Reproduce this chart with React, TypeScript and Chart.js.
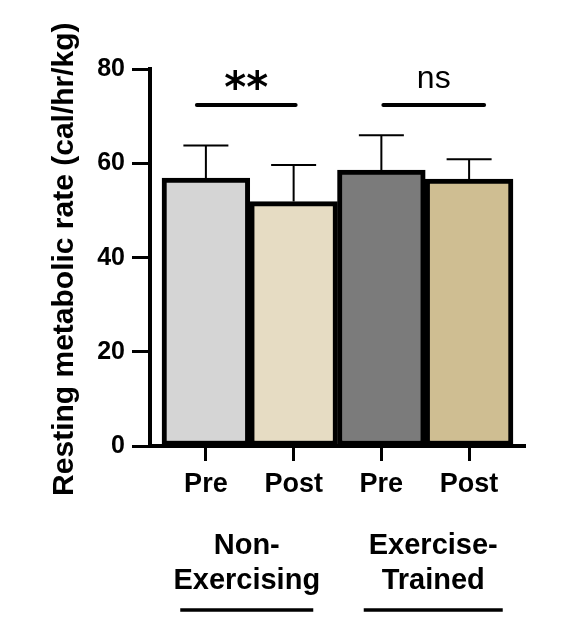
import React, { useEffect, useRef } from "react";
import { Chart, registerables } from "chart.js";

Chart.register(...registerables);

const categories = ["Pre", "Post", "Pre", "Post"];
const groupLines = [["Non-", "Exercising"], ["Exercise-", "Trained"]];
const means = [56.9, 51.9, 58.6, 56.7];
const sem = [6.9, 7.8, 7.4, 4.2];
const barColors = ["#d5d5d5", "#e6dcc3", "#7b7b7b", "#cfbe92"];
const yTicks = [0, 20, 40, 60, 80];
const significance = ["**", "ns"];
const yTitle = "Resting metabolic rate (cal/hr/kg)";

const SANS = "'Liberation Sans', Arial, Helvetica, sans-serif";

const overlay = {
  id: "overlay",
  afterDatasetsDraw(chart: any) {
    const { ctx } = chart;
    const x = chart.scales.x;
    const y = chart.scales.y;
    ctx.save();
    ctx.strokeStyle = "#000";
    ctx.fillStyle = "#000";

    // error bars (upper only)
    ctx.lineWidth = 2;
    means.forEach((m, i) => {
      const px = x.getPixelForValue(i);
      const top = y.getPixelForValue(m);
      const cap = y.getPixelForValue(m + sem[i]);
      ctx.beginPath();
      ctx.moveTo(px, top);
      ctx.lineTo(px, cap);
      ctx.moveTo(px - 22.5, cap);
      ctx.lineTo(px + 22.5, cap);
      ctx.stroke();
    });

    // significance brackets
    const sigY = y.getPixelForValue(72.4);
    ctx.lineWidth = 4;
    ctx.lineCap = "round";
    const pairs = [
      [x.getPixelForValue(0) - 9, x.getPixelForValue(1) + 2],
      [x.getPixelForValue(2) + 2, x.getPixelForValue(3) + 15],
    ];
    pairs.forEach(([a, b]) => {
      ctx.beginPath();
      ctx.moveTo(a, sigY);
      ctx.lineTo(b, sigY);
      ctx.stroke();
    });
    ctx.textAlign = "center";
    ctx.textBaseline = "alphabetic";
    ctx.font = "bold 42px 'DejaVu Sans', sans-serif";
    ctx.fillText(significance[0], (pairs[0][0] + pairs[0][1]) / 2, sigY - 3);
    ctx.font = "32px " + SANS;
    ctx.fillText(significance[1], (pairs[1][0] + pairs[1][1]) / 2, sigY - 17.5);

    // group labels
    const bottom = y.getPixelForValue(0);
    ctx.font = "bold 29px " + SANS;
    const gCenters = [
      (x.getPixelForValue(0) + x.getPixelForValue(1)) / 2 - 3,
      (x.getPixelForValue(2) + x.getPixelForValue(3)) / 2 + 8,
    ];
    groupLines.forEach((lines, g) => {
      lines.forEach((t, k) => {
        ctx.fillText(t, gCenters[g], bottom + 108 + k * 35);
      });
    });
    ctx.lineWidth = 3.5;
    ctx.lineCap = "butt";
    const halfW = [66.5, 69.5];
    gCenters.forEach((c, g) => {
      ctx.beginPath();
      ctx.moveTo(c - halfW[g], bottom + 164);
      ctx.lineTo(c + halfW[g], bottom + 164);
      ctx.stroke();
    });

    // y-axis title
    ctx.font = "bold 30px " + SANS;
    ctx.translate(72.5, (y.top + y.bottom) / 2 + 1.5);
    ctx.rotate(-Math.PI / 2);
    ctx.fillText(yTitle, 0, 0);
    ctx.restore();
  },
};

export default function App() {
  const ref = useRef<HTMLCanvasElement | null>(null);
  useEffect(() => {
    if (!ref.current) return;
    const chart = new Chart(ref.current, {
      type: "bar",
      data: {
        datasets: [
          {
            data: means.map((m, i) => ({ x: i, y: m })) as any,
            backgroundColor: barColors,
            borderColor: "#000",
            borderWidth: 5,
            borderSkipped: false,
            barPercentage: 1,
            categoryPercentage: 1,
          } as any,
        ],
      },
      options: {
        animation: false,
        responsive: false,
        layout: { padding: { top: 69.3, right: 45, left: 0, bottom: 0 } },
        plugins: { legend: { display: false }, tooltip: { enabled: false } },
        scales: {
          x: {
            type: "linear",
            offset: false,
            min: -0.637,
            max: 3.637,
            afterBuildTicks: (s: any) => {
              s.ticks = categories.map((_, i) => ({ value: i }));
            },
            afterFit: (s: any) => {
              s.height = 190;
            },
            ticks: {
              callback: (v: any) => categories[v as number] ?? "",
              color: "#000",
              font: { family: SANS, size: 27, weight: "bold" },
              padding: 7,
              maxRotation: 0,
              autoSkip: false,
            },
            grid: {
              offset: false,
              drawOnChartArea: false,
              tickLength: 15,
              tickWidth: 3,
              tickColor: "#000",
            },
            border: { color: "#000", width: 4 },
          } as any,
          y: {
            min: 0,
            max: 80,
            afterBuildTicks: (s: any) => {
              s.ticks = yTicks.map((v) => ({ value: v }));
            },
            afterFit: (s: any) => {
              s.width = 150;
            },
            ticks: {
              color: "#000",
              font: { family: SANS, size: 25, weight: "bold" },
              padding: 7,
            },
            grid: {
              drawOnChartArea: false,
              tickLength: 18,
              tickWidth: 3,
              tickColor: "#000",
            },
            border: { color: "#000", width: 4 },
          } as any,
        },
      },
      plugins: [overlay],
    });
    return () => chart.destroy();
  }, []);
  return (
    <div style={{ position: "absolute", left: 0, top: 0, width: 570, height: 636, background: "#fff" }}>
      <canvas ref={ref} width={570} height={636} style={{ width: 570, height: 636 }} />
    </div>
  );
}
